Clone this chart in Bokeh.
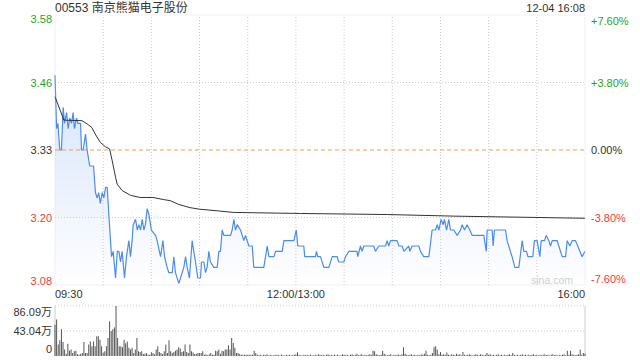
import numpy as np
from bokeh.plotting import figure
from bokeh.models import Range1d, Label, BoxAnnotation
from bokeh.embed import file_html
from bokeh.resources import INLINE

# ---------------- data ----------------
title_text = "00553 南京熊猫电子股份"
date_text = "12-04 16:08"
prev_close = 3.33
pct_steps = [0.076, 0.038, 0.0, -0.038, -0.076]
price_tick_labels = ["3.58", "3.46", "3.33", "3.20", "3.08"]
pct_tick_labels = ["+7.60%", "+3.80%", "0.00%", "-3.80%", "-7.60%"]
time_labels = ["09:30", "12:00/13:00", "16:00"]
time_label_minutes = [0, 150, 330]
total_minutes = 330
vol_max = 86.09
vol_tick_labels = ["86.09万", "43.04万", "0"]
vol_tick_values = [86.09, 43.04, 0]

price_t = [0, 1, 1.8, 2.5, 3, 4, 5.1, 5.9, 7.2, 8.2, 9.2, 10.3, 11.3, 12.1, 13.4, 14.2, 15.9,
           16.5, 17.5, 19, 20, 21.6, 24, 25.2, 26.2, 27.2, 28.2, 29.4, 30.4, 31.5, 32.5, 33.5,
           35.2, 36.2, 37.7, 38.8, 39.8, 40.8, 41.8, 43.3, 44.5, 46, 47, 48, 48.7, 50.2, 51.2,
           52.2, 53.3, 54.3, 55.3, 56.3, 57.4, 58.4, 59, 60, 62.6, 63.6, 65.7, 67.2, 68.2, 69.8,
           70.9, 73, 74, 75, 77.1, 79.2, 80.2, 81.3, 82.3, 83.7, 85.4, 86.4, 87.5, 88.9, 90.6,
           91.2, 92.7, 93.7, 94.7, 95.8, 96.8, 98.9, 101, 102, 103, 104.1, 105.1, 109.3, 110.3,
           111.4, 112.4, 113.5, 115.5, 117.6, 118.6, 120.7, 122.8, 123.8, 130, 131.1, 132.1,
           133.2, 136.3, 137.3, 141.5, 142.5, 148.7, 150.2, 151.2, 154.9, 155.5, 162.2, 162.8,
           163.6, 165.3, 167.4, 170.5, 172.6, 175.7, 176.7, 179.8, 180.9, 183, 188.1, 188.5,
           190.2, 191.2, 192.3, 198.5, 199.5, 201.6, 205.8, 206.8, 207.8, 208.9, 213, 214.1,
           216.2, 217.2, 220.3, 220.9, 222.4, 226.5, 227.6, 229.6, 232.8, 234.8, 236.9, 238,
           239, 240.4, 241.7, 242.5, 243.8, 245.2, 246.2, 248.3, 250.4, 252.5, 253.5, 255,
           256.6, 258.3, 259.7, 267, 268.5, 269.1, 272.2, 272.8, 273.6, 280.5, 281.5, 284.6,
           286.3, 288.8, 290.9, 291.9, 293.6, 294.4, 297.5, 298.5, 300.2, 301.9, 302.7, 304.8,
           305.8, 307.5, 308.5, 309.6, 312.7, 313.7, 315.8, 317.9, 318.9, 320.6, 322, 324.1,
           325.5, 326.8, 328.2, 330]
price_v = [3.47, 3.37, 3.38, 3.35, 3.33, 3.33, 3.41, 3.38, 3.40, 3.37, 3.39, 3.38, 3.40, 3.37,
           3.39, 3.38, 3.38, 3.33, 3.33, 3.36, 3.33, 3.30, 3.30, 3.25, 3.24, 3.25, 3.23, 3.25,
           3.24, 3.26, 3.26, 3.21, 3.13, 3.14, 3.09, 3.14, 3.14, 3.12, 3.14, 3.09, 3.13, 3.16,
           3.13, 3.16, 3.19, 3.20, 3.18, 3.19, 3.18, 3.20, 3.18, 3.19, 3.22, 3.21, 3.20, 3.18,
           3.17, 3.16, 3.13, 3.16, 3.13, 3.11, 3.10, 3.10, 3.13, 3.10, 3.08, 3.10, 3.11, 3.13,
           3.11, 3.09, 3.16, 3.14, 3.12, 3.09, 3.09, 3.12, 3.12, 3.10, 3.11, 3.14, 3.12, 3.11,
           3.11, 3.14, 3.14, 3.18, 3.17, 3.17, 3.18, 3.20, 3.18, 3.19, 3.18, 3.16, 3.17, 3.15,
           3.15, 3.11, 3.11, 3.13, 3.15, 3.13, 3.13, 3.14, 3.14, 3.16, 3.16, 3.18, 3.15, 3.15,
           3.13, 3.13, 3.14, 3.13, 3.13, 3.11, 3.11, 3.13, 3.13, 3.12, 3.12, 3.13, 3.14, 3.14,
           3.13, 3.15, 3.14, 3.15, 3.15, 3.14, 3.15, 3.15, 3.16, 3.15, 3.16, 3.16, 3.15, 3.15,
           3.14, 3.15, 3.14, 3.15, 3.15, 3.14, 3.13, 3.13, 3.18, 3.18, 3.19, 3.18, 3.20, 3.19,
           3.20, 3.18, 3.20, 3.18, 3.18, 3.17, 3.18, 3.19, 3.18, 3.19, 3.18, 3.17, 3.17, 3.14,
           3.18, 3.18, 3.15, 3.18, 3.18, 3.16, 3.13, 3.11, 3.11, 3.16, 3.14, 3.14, 3.13, 3.13,
           3.16, 3.16, 3.13, 3.16, 3.16, 3.17, 3.16, 3.15, 3.16, 3.16, 3.15, 3.13, 3.13, 3.16,
           3.15, 3.16, 3.16, 3.15, 3.14, 3.13, 3.14]

avg_t = [0, 3.4, 5.5, 16.8, 20, 23, 25, 28.3, 31.4, 34, 35.6, 37.7, 38.7, 41.8, 47, 53, 61,
         67.7, 71.8, 77, 84, 90, 101, 111, 132, 153, 207, 249, 290, 330]
avg_v = [3.43, 3.403, 3.386, 3.385, 3.379, 3.372, 3.36, 3.344, 3.336, 3.332, 3.31, 3.279,
         3.266, 3.254, 3.245, 3.241, 3.241, 3.237, 3.235, 3.228, 3.222, 3.219, 3.216, 3.213,
         3.212, 3.211, 3.209, 3.206, 3.204, 3.202]

# volume (万), one bar per trading minute
vol_early = [54, 63, 20, 27, 46, 24, 11, 4, 21, 9, 11, 5, 8, 9, 3, 2, 4, 5, 24, 5,
             5, 20, 25, 17, 25, 17, 34, 34, 28, 17, 6, 8, 17, 31, 60, 43, 46, 49, 86.09, 31,
             17, 17, 15, 28, 22, 25, 14, 11, 14, 5, 11, 31, 8, 7, 8, 3.5, 4, 5, 2.3, 2.3,
             6.4, 5, 3, 11, 17, 7, 5, 3.5, 8, 20, 5, 27, 8, 5, 7, 9, 11, 15, 13, 7,
             8, 20, 7, 5, 20, 8, 6, 3.5, 4, 5, 5, 5, 8, 2.3, 3, 1.2, 3, 5, 2.3, 2.3,
             9, 8, 11, 4, 9, 8, 11, 11, 18.5, 11, 31, 22.5, 14, 5, 5, 3.5, 2.3, 2.3, 2, 2.3,
             2, 2.3, 2, 2.3, 9.2, 5]
vol_late = [2, 1.5, 2, 1, 2.5, 1.5, 3, 1, 2, 1.5,
            1, 2, 1.5, 2, 1, 2.5, 1.5, 1, 2, 1.5,
            2, 1, 1.5, 2, 3, 6.4, 2, 1.5, 1, 2,
            1.5, 2, 1, 2.5, 1.5, 1, 2, 1.5, 3, 2,
            1.5, 2, 1, 2, 3, 1.5, 2, 1, 2.5, 1.5,
            2, 1, 1.5, 3, 2, 1.5, 2, 1, 2, 3,
            1.5, 2, 4, 1.5, 2, 3, 1, 2, 1.5, 2,
            3, 2, 9.2, 8, 3, 2, 1.5, 2, 9, 4,
            2, 1.5, 2, 3, 1, 2, 1.5, 2, 2.5, 1.5,
            3, 15, 4, 2, 1.5, 2, 3, 1.5, 2, 1,
            2, 1.5, 3, 2, 4, 9, 2, 1.5, 2, 5,
            15, 16.8, 11, 3, 7, 2, 3, 2, 6, 2,
            1.5, 3, 2, 1.5, 4, 2, 3, 1.5, 7, 2,
            1.5, 2, 3, 2, 1, 2, 3, 2, 1.5, 3,
            2, 1.5, 2, 5, 2, 3, 1.5, 2, 1, 2,
            3, 1.5, 2, 1, 2, 1.5, 2, 3, 1.5, 5,
            2, 1.5, 2, 1, 2, 3, 1.5, 2, 1, 2,
            1.5, 2, 3, 1.5, 2, 1, 2, 1.5, 2, 3,
            1.5, 2, 1, 2, 3, 1.5, 2, 1, 2, 1.5,
            2, 3, 1.5, 9, 2, 9, 3, 2, 1.5, 2,
            3, 11, 2, 5, 4]

# ---------------- layout geometry (pixels) ----------------
W, H = 640, 360
PX_L, PX_R = 54.5, 584.5      # plot area left / right
PR_TOP, PR_BOT = 14.5, 284.5  # price panel top / bottom
VO_TOP, VO_BOT = 305.5, 355.5 # volume panel top / bottom

FONT = "Liberation Sans, Arial, Noto Sans CJK SC, sans-serif"
TXT = "#333333"
GREEN = "#1fa31f"
RED = "#f23a3a"
GRID = "#cccccc"
BLUE = "#4a8ced"

levels = [prev_close * (1 + s) for s in pct_steps]
ymax, ymin = levels[0], levels[-1]
label_colors = [GREEN, GREEN, TXT, RED, RED]

sx = (PX_R - PX_L) / total_minutes
sy = (PR_BOT - PR_TOP) / (ymax - ymin)
sv = (VO_BOT - VO_TOP) / vol_max

x_range = Range1d(-PX_L / sx, total_minutes + (W - PX_R) / sx)
y_range = Range1d(ymin - (H - PR_BOT) / sy, ymax + PR_TOP / sy)
vol_range = Range1d(-(H - VO_BOT) / sv, vol_max + VO_TOP / sv)

p = figure(width=W, height=H, output_backend="svg", toolbar_location=None,
           x_range=x_range, y_range=y_range,
           x_axis_location=None, y_axis_location=None,
           min_border=0, min_border_left=0, min_border_right=0,
           min_border_top=0, min_border_bottom=0)
p.extra_y_ranges = {"vol": vol_range}
p.outline_line_color = None
p.background_fill_color = "white"
p.border_fill_color = "white"
p.xgrid.visible = False
p.ygrid.visible = False

t = np.array(price_t, dtype=float)
v = np.array(price_v, dtype=float)

# gradient area below the price line (stacked colour bands)
nb = 28
top_c = np.array([0xd4, 0xe2, 0xfa], dtype=float)
bot_c = np.array([0xff, 0xff, 0xff], dtype=float)
band_edges = np.linspace(ymin, max(price_v), nb + 1)
for k in range(nb):
    lo, hi = band_edges[k], band_edges[k + 1]
    frac = (k + 0.5) / nb
    c = bot_c + (top_c - bot_c) * frac
    col = "#%02x%02x%02x" % tuple(int(round(x)) for x in c)
    p.varea(x=t, y1=np.minimum(v, lo), y2=np.minimum(v, hi + 0.0005), fill_color=col)

# grid lines of the price panel
vx = list(range(30, total_minutes, 30))
p.segment(x0=vx, y0=[ymin] * len(vx), x1=vx, y1=[ymax] * len(vx),
          line_color=GRID, line_dash="1 2", line_width=1)
hy = [levels[1], levels[3]]
p.segment(x0=[0, 0], y0=hy, x1=[total_minutes] * 2, y1=hy,
          line_color=GRID, line_dash="1 2", line_width=1)
p.segment(x0=[0], y0=[prev_close], x1=[total_minutes], y1=[prev_close],
          line_color="#f59a50", line_dash="4 3", line_width=1)

p.line(t, v, line_color=BLUE, line_width=1.2)
p.line(avg_t, avg_v, line_color="#333333", line_width=1)

p.add_layout(BoxAnnotation(left=0, right=total_minutes, bottom=ymin, top=ymax,
                           fill_alpha=0, line_color=GRID, line_width=1))

# price / pct labels
for i, (lv, lab, pct) in enumerate(zip(levels, price_tick_labels, pct_tick_labels)):
    base = "top" if i == 0 else ("bottom" if i == len(levels) - 1 else "middle")
    p.add_layout(Label(x=0, y=lv, text=lab, x_offset=-3, text_align="right", text_baseline=base,
                       text_font=FONT, text_font_size="11px", text_color=label_colors[i]))
    p.add_layout(Label(x=total_minutes, y=lv, text=pct, x_offset=6, text_align="left", text_baseline=base,
                       text_font=FONT, text_font_size="11px", text_color=label_colors[i]))

aligns = ["left", "center", "right"]
for lab, m, al in zip(time_labels, time_label_minutes, aligns):
    p.add_layout(Label(x=m, y=ymin, text=lab, y_offset=-9, text_align=al, text_baseline="middle",
                       text_font=FONT, text_font_size="11px", text_color=TXT))

p.add_layout(Label(x=0, y=ymax, text=title_text, y_offset=7, text_align="left", text_baseline="middle",
                   text_font=FONT, text_font_size="12px", text_color=TXT))
p.add_layout(Label(x=total_minutes, y=ymax, text=date_text, y_offset=7, text_align="right",
                   text_baseline="middle", text_font=FONT, text_font_size="11px", text_color=TXT))
p.add_layout(Label(x=total_minutes, y=ymin, text="sina.com", x_offset=-12, y_offset=5, text_align="right",
                   text_baseline="middle", text_font=FONT, text_font_size="10.5px", text_color="#d0d0d0"))

# ---------------- volume panel ----------------
vol = list(vol_early) + list(vol_late)
vt = np.arange(len(vol))

p.segment(x0=[0, 0], y0=vol_tick_values[:2], x1=[total_minutes] * 2, y1=vol_tick_values[:2],
          line_color=GRID, line_dash="1 2", y_range_name="vol")
p.segment(x0=[0, total_minutes], y0=[0, 0], x1=[0, total_minutes], y1=[vol_max, vol_max],
          line_color=GRID, y_range_name="vol")
p.vbar(x=vt, top=vol, bottom=0, width=0.62, fill_color="#555555", line_color=None, y_range_name="vol")

vol_offsets = [0, 0, 3]
for i, (lab, val) in enumerate(zip(vol_tick_labels, vol_tick_values)):
    base = "top" if i == 0 else ("bottom" if i == 2 else "middle")
    p.add_layout(Label(x=0, y=val, text=lab, x_offset=-3, y_offset=vol_offsets[i],
                       text_align="right", text_baseline=base, y_range_name="vol",
                       text_font=FONT, text_font_size="11px", text_color=TXT))

open("out.html", "w").write(file_html(p, INLINE))
